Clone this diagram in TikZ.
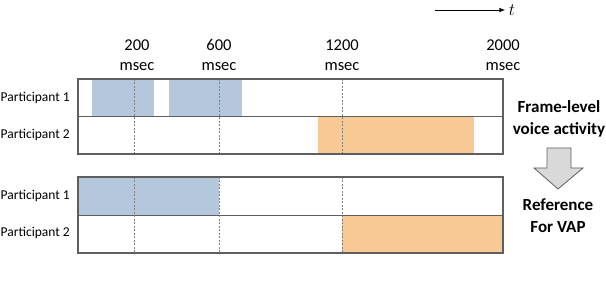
\documentclass[tikz,border=0pt]{standalone}
\usepackage{fontspec}
\setmainfont{Carlito}
\usetikzlibrary{arrows.meta}
\definecolor{vaBlue}{RGB}{180,199,220}
\definecolor{vaOrange}{RGB}{247,201,148}
\definecolor{frameGray}{RGB}{95,95,95}
\definecolor{arrowGray}{RGB}{217,217,217}

\begin{document}
\begin{tikzpicture}[x=1pt,y=-1pt,
    partlabel/.style={anchor=east, inner sep=1pt, font=\fontsize{13.5}{15}\selectfont},
    ticklabel/.style={align=center, font=\fontsize{16.5}{20}\selectfont},
    sidelabel/.style={align=center, font=\fontsize{17}{22}\selectfont\bfseries},
    grid/.style={dashed, gray, line width=0.6pt, dash pattern=on 2pt off 1.5pt},
    frame/.style={frameGray, line width=1.3pt}]
  \useasboundingbox (0,0) rectangle (606,286);
  % frame-level voice activity
  \fill[vaBlue] (92,79) rectangle (154,116);
  \fill[vaBlue] (169,79) rectangle (242,116);
  \fill[vaOrange] (318,116) rectangle (474,154);
  % reference for VAP
  \fill[vaBlue] (78,177) rectangle (219,215);
  \fill[vaOrange] (342,215) rectangle (503,253);
  \foreach \x in {134,219,342}
    \draw[grid] (\x,79) -- (\x,154) (\x,177) -- (\x,253);
  \draw[frame] (78,79) rectangle (503,154);
  \draw[frame, line width=0.8pt] (78,116) -- (503,116);
  \draw[frame] (78,177) rectangle (503,253);
  \draw[frame, line width=0.8pt] (78,215) -- (503,215);

  \node[partlabel] (p1a) at (71,98) {Participant 1};
  \node[partlabel] (p2a) at (71,135) {Participant 2};
  \node[partlabel] (p1b) at (71,196) {Participant 1};
  \node[partlabel] (p2b) at (71,233) {Participant 2};

  \node[ticklabel] (ms200) at (137,55) {200\\msec};
  \node[ticklabel] (ms600) at (219,55) {600\\msec};
  \node[ticklabel] (ms1200) at (342,55) {1200\\msec};
  \node[ticklabel] (ms2000) at (503,55) {2000\\msec};

  \node[sidelabel] (framelevel) at (559,119) {Frame-level\\voice activity};
  \node[sidelabel] (reference) at (558,216) {Reference\\For VAP};
  \draw[frameGray, fill=arrowGray, line width=0.8pt] (547,148) -- (571,148) -- (571,168) -- (583,168)
    -- (558,189) -- (534,168) -- (547,168) -- cycle;

  \node[font=\fontsize{17}{17}\selectfont] (t) at (512,10) {$t$};
  \coordinate (tstart) at (435,10);
  \draw[-{Latex[length=6pt]}, line width=0.9pt] (tstart) -- (t.west);
\end{tikzpicture}
\end{document}
